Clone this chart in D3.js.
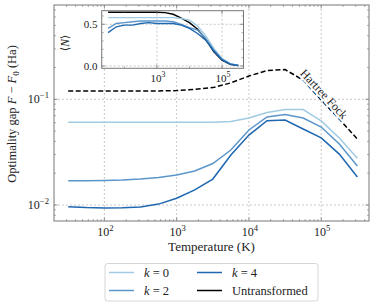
<!DOCTYPE html>
<html>
<head>
<meta charset="utf-8">
<script src="https://cdn.jsdelivr.net/npm/d3@7"></script>
<style>
  body { margin: 0; background: #fff; }
  text { font-family: "Liberation Serif", "DejaVu Serif", serif; fill: #222; }
</style>
</head>
<body>
<div id="chart"></div>
<script>
// temperatures (K)
const temps = [31.6, 56.2, 100, 178, 316, 562, 1000, 1778, 3162, 5623, 10000, 17783, 31623, 56234, 100000, 177828, 316228];
// optimality gap F - F0 (Ha)
const gapK0 = [0.0606, 0.0606, 0.0606, 0.0606, 0.0606, 0.0606, 0.0606, 0.0606, 0.0607, 0.0617, 0.0665, 0.075, 0.080, 0.080, 0.0624, 0.043, 0.0277];
const gapK2 = [0.0170, 0.0170, 0.0171, 0.0172, 0.0176, 0.0182, 0.0192, 0.0210, 0.0247, 0.0331, 0.0513, 0.068, 0.0718, 0.0665, 0.0547, 0.0378, 0.0234];
const gapK4 = [0.00964, 0.00946, 0.00937, 0.0094, 0.00957, 0.0102, 0.0116, 0.0139, 0.0176, 0.0297, 0.0459, 0.0628, 0.0637, 0.0524, 0.0431, 0.0303, 0.0184];
const gapHF = [0.120, 0.120, 0.120, 0.120, 0.120, 0.120, 0.121, 0.124, 0.129, 0.143, 0.166, 0.187, 0.191, 0.152, 0.0985, 0.065, 0.042];
// inset: <N>
const nUntr = [0.645, 0.645, 0.645, 0.645, 0.645, 0.645, 0.645, 0.64, 0.62, 0.575, 0.52, 0.44, 0.32, 0.17, 0.07, 0.02, 0.005];
const nK0 = [0.58, 0.58, 0.58, 0.58, 0.58, 0.58, 0.58, 0.58, 0.58, 0.57, 0.55, 0.48, 0.36, 0.21, 0.09, 0.03, 0.006];
const nK2 = [0.45, 0.51, 0.52, 0.53, 0.54, 0.54, 0.54, 0.54, 0.53, 0.50, 0.46, 0.43, 0.33, 0.19, 0.08, 0.025, 0.005];
const nK4 = [0.40, 0.47, 0.49, 0.49, 0.51, 0.52, 0.51, 0.51, 0.51, 0.49, 0.45, 0.39, 0.31, 0.18, 0.075, 0.022, 0.005];

const xTicks = [1e2, 1e3, 1e4, 1e5];
const yTicks = [1e-2, 1e-1];
const insetXTicks = [1e3, 1e5];
const insetYTicks = [0, 0.5];

const colK0 = "#a0cbe2", colK2 = "#5b96cb", colK4 = "#1f67b0", colUntr = "#000";
const spine = "#777", gridCol = "#bbb";

const svg = d3.select("#chart").append("svg").attr("width", 374).attr("height", 306);

const x = d3.scaleLog().domain([20.1, 4.58e5]).range([54, 369]);
const y = d3.scaleLog().domain([0.00706, 0.78]).range([221, 5]);

function sup(sel, base, exp, size) {
    sel.append("tspan").text(base);
    sel.append("tspan").attr("dy", -size * 0.45).attr("font-size", size * 0.72).text(exp);
}

// grid
svg.selectAll(".gx").data(xTicks).enter().append("line")
    .attr("x1", d => x(d)).attr("x2", d => x(d)).attr("y1", 5).attr("y2", 221)
    .attr("stroke", gridCol).attr("stroke-width", 0.8).attr("stroke-dasharray", "2,2");
svg.selectAll(".gy").data(yTicks).enter().append("line")
    .attr("x1", 54).attr("x2", 369).attr("y1", d => y(d)).attr("y2", d => y(d))
    .attr("stroke", gridCol).attr("stroke-width", 0.8).attr("stroke-dasharray", "2,2");

// lines
const mline = vals => d3.line().x((d, i) => x(temps[i])).y(d => y(d))(vals);
svg.append("path").attr("d", mline(gapHF)).attr("fill", "none").attr("stroke", "#000")
    .attr("stroke-width", 1.5).attr("stroke-dasharray", "5,2.5");
[[gapK0, colK0], [gapK2, colK2], [gapK4, colK4]].forEach(([v, c]) => {
    svg.append("path").attr("d", mline(v)).attr("fill", "none").attr("stroke", c).attr("stroke-width", 1.5);
});

// HF label
svg.append("text").attr("transform", "translate(324,94) rotate(47)")
    .attr("text-anchor", "middle").attr("dominant-baseline", "central")
    .attr("font-size", 12).attr("stroke", "#fff").attr("stroke-width", 4)
    .attr("paint-order", "stroke").text("Hartree Fock");

// ticks on all sides, inward
function logMinors(lo, hi) {
    let out = [];
    for (let e = Math.floor(Math.log10(lo)); e <= Math.ceil(Math.log10(hi)); e++)
        for (let m = 2; m <= 9; m++) { const v = m * Math.pow(10, e); if (v > lo && v < hi) out.push(v); }
    return out;
}
function drawTicks(g, sx, sy, xMaj, xMin, yMaj, yMin, L, R, T, B) {
    xMaj.forEach(v => { [[B, -3.5], [T, 3.5]].forEach(([yy, d]) => g.append("line").attr("x1", sx(v)).attr("x2", sx(v)).attr("y1", yy).attr("y2", yy + d).attr("stroke", spine).attr("stroke-width", 0.8)); });
    xMin.forEach(v => { [[B, -2], [T, 2]].forEach(([yy, d]) => g.append("line").attr("x1", sx(v)).attr("x2", sx(v)).attr("y1", yy).attr("y2", yy + d).attr("stroke", spine).attr("stroke-width", 0.6)); });
    yMaj.forEach(v => { [[L, 3.5], [R, -3.5]].forEach(([xx, d]) => g.append("line").attr("y1", sy(v)).attr("y2", sy(v)).attr("x1", xx).attr("x2", xx + d).attr("stroke", spine).attr("stroke-width", 0.8)); });
    yMin.forEach(v => { [[L, 2], [R, -2]].forEach(([xx, d]) => g.append("line").attr("y1", sy(v)).attr("y2", sy(v)).attr("x1", xx).attr("x2", xx + d).attr("stroke", spine).attr("stroke-width", 0.6)); });
}
drawTicks(svg, x, y, xTicks, logMinors(20.1, 4.58e5), yTicks, logMinors(0.00706, 0.78), 54, 369, 5, 221);

svg.append("rect").attr("x", 54).attr("y", 5).attr("width", 315).attr("height", 216)
    .attr("fill", "none").attr("stroke", spine).attr("stroke-width", 1);

// tick labels
svg.selectAll(".xl").data(xTicks).enter().append("text")
    .attr("x", d => x(d) + 1).attr("y", 236).attr("text-anchor", "middle").attr("font-size", 12)
    .each(function (d) { sup(d3.select(this), "10", String(Math.round(Math.log10(d))), 12); });
svg.selectAll(".yl").data(yTicks).enter().append("text")
    .attr("x", 49).attr("y", d => y(d) + 4).attr("text-anchor", "end").attr("font-size", 12)
    .each(function (d) { sup(d3.select(this), "10", "\u2212" + String(-Math.round(Math.log10(d))), 12); });

// axis labels
svg.append("text").attr("x", 211.5).attr("y", 251).attr("text-anchor", "middle").attr("font-size", 13)
    .text("Temperature (K)");
const yl = svg.append("text").attr("transform", "translate(16,114) rotate(-90)").attr("text-anchor", "middle").attr("font-size", 12.5);
yl.append("tspan").text("Optimality gap ");
yl.append("tspan").attr("font-style", "italic").text("F");
yl.append("tspan").text(" \u2212 ");
yl.append("tspan").attr("font-style", "italic").text("F");
yl.append("tspan").attr("font-size", 9).attr("dy", 2.5).text("0");
yl.append("tspan").attr("dy", -2.5).text(" (Ha)");

// inset
const ix = d3.scaleLog().domain([20.1, 4.58e5]).range([101.7, 243.5]);
const iy = d3.scaleLinear().domain([-0.028, 0.663]).range([68.3, 10.7]);
const ins = svg.append("g");
ins.append("rect").attr("x", 101.7).attr("y", 10.7).attr("width", 141.8).attr("height", 57.6).attr("fill", "#fff");
insetXTicks.forEach(v => ins.append("line").attr("x1", ix(v)).attr("x2", ix(v)).attr("y1", 10.7).attr("y2", 68.3)
    .attr("stroke", gridCol).attr("stroke-width", 0.8).attr("stroke-dasharray", "2,2"));
insetYTicks.forEach(v => ins.append("line").attr("x1", 101.7).attr("x2", 243.5).attr("y1", iy(v)).attr("y2", iy(v))
    .attr("stroke", gridCol).attr("stroke-width", 0.8).attr("stroke-dasharray", "2,2"));
const iline = vals => d3.line().x((d, i) => ix(temps[i])).y(d => iy(d))(vals);
[[nUntr, colUntr], [nK0, colK0], [nK2, colK2], [nK4, colK4]].forEach(([v, c]) => {
    ins.append("path").attr("d", iline(v)).attr("fill", "none").attr("stroke", c).attr("stroke-width", 1.4);
});
drawTicks(ins, ix, iy, insetXTicks, [1e2, 1e4], insetYTicks, [0.1, 0.2, 0.3, 0.4, 0.6], 101.7, 243.5, 10.7, 68.3);
ins.append("rect").attr("x", 101.7).attr("y", 10.7).attr("width", 141.8).attr("height", 57.6)
    .attr("fill", "none").attr("stroke", spine).attr("stroke-width", 1);
ins.selectAll(".ixl").data(insetXTicks).enter().append("text")
    .attr("x", d => ix(d) + 1).attr("y", 81.5).attr("text-anchor", "middle").attr("font-size", 11)
    .each(function (d) { sup(d3.select(this), "10", String(Math.round(Math.log10(d))), 11); });
ins.selectAll(".iyl").data(insetYTicks).enter().append("text")
    .attr("x", 97.5).attr("y", d => iy(d) + 3.8).attr("text-anchor", "end").attr("font-size", 11)
    .text(d => d.toFixed(1));
const il = ins.append("text").attr("transform", "translate(69,43) rotate(-90)").attr("text-anchor", "middle").attr("font-size", 11.5);
il.append("tspan").text("\u27e8");
il.append("tspan").attr("font-style", "italic").text("N");
il.append("tspan").text("\u27e9");

// legend
const legendLabels = [["k", " = 0"], ["k", " = 2"], ["k", " = 4"], ["", "Untransformed"]];
const legendColors = [colK0, colK2, colK4, colUntr];
const lg = svg.append("g");
lg.append("rect").attr("x", 105).attr("y", 263.5).attr("width", 213).attr("height", 37.5).attr("rx", 2.5)
    .attr("fill", "#fff").attr("stroke", "#ccc").attr("stroke-width", 0.8);
const lpos = [[109, 272.5], [109, 290.5], [197, 272.5], [197, 290.5]];
legendLabels.forEach((lab, i) => {
    const [lx, ly] = lpos[i];
    lg.append("line").attr("x1", lx).attr("x2", lx + 25).attr("y1", ly).attr("y2", ly)
        .attr("stroke", legendColors[i]).attr("stroke-width", 1.5);
    const t = lg.append("text").attr("x", lx + 35).attr("y", ly + 4.2).attr("font-size", 12.5);
    if (lab[0]) t.append("tspan").attr("font-style", "italic").text(lab[0]);
    t.append("tspan").text(lab[1]);
});
</script>
</body>
</html>
